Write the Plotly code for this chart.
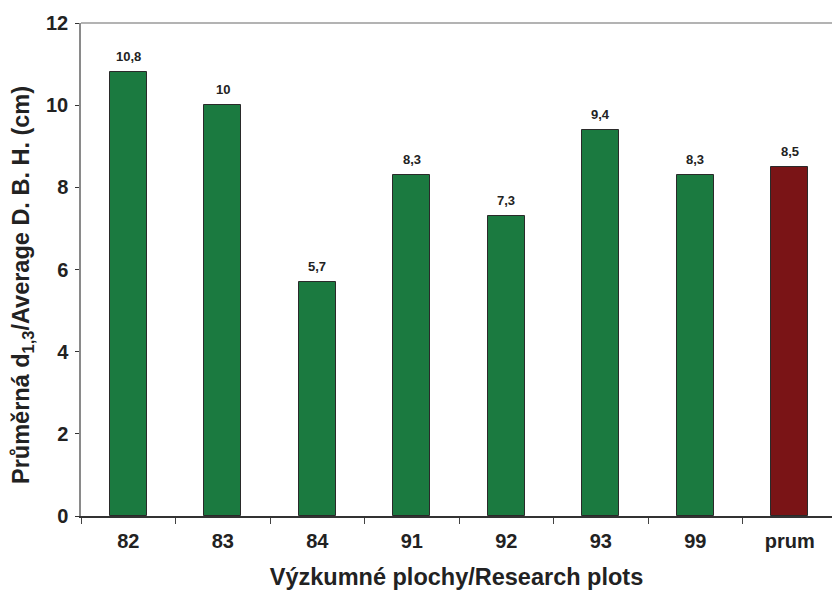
import plotly.graph_objects as go

# Research plots and the mean diameter at breast height (cm)
plots = ["82", "83", "84", "91", "92", "93", "99", "prum"]
dbh = [10.8, 10.0, 5.7, 8.3, 7.3, 9.4, 8.3, 8.5]
value_labels = ["10,8", "10", "5,7", "8,3", "7,3", "9,4", "8,3", "8,5"]

y_ticks = [0, 2, 4, 6, 8, 10, 12]

GREEN = "#1B7A40"
RED = "#7A1416"
bar_colors = [RED if p == "prum" else GREEN for p in plots]

fig = go.Figure()
fig.add_trace(go.Bar(
    x=plots,
    y=dbh,
    width=0.395,
    marker=dict(color=bar_colors, line=dict(color="#2a2a2a", width=1)),
    hoverinfo="x+y",
))

# value labels above each bar (category index used as x position)
for i, (v, lab) in enumerate(zip(dbh, value_labels)):
    fig.add_annotation(
        x=i, y=v, text="<b>" + lab + "</b>", showarrow=False,
        yanchor="bottom", yshift=6,
        font=dict(family="Liberation Sans Narrow, Arial Narrow, Liberation Sans, sans-serif",
                  size=13, color="#222222"),
    )

# vertical y-axis title, placed as an annotation left of the tick labels
fig.add_annotation(
    xref="paper", yref="paper",
    x=(22 - 81) / 751, y=(516 - 285) / 493,
    xanchor="center", yanchor="middle",
    textangle=-90, showarrow=False,
    text="<b>Průměrná d<sub>1,3</sub>/Average D. B. H. (cm)</b>",
    font=dict(size=23.5, family="Liberation Sans, Arial, sans-serif", color="#222222"),
)

# thin grey frame line along the top of the plot area
fig.add_shape(type="line", xref="paper", yref="paper",
              x0=0, x1=1, y0=1, y1=1,
              line=dict(color="#9a9a9a", width=1.5))

fig.update_layout(
    width=832, height=598,
    margin=dict(l=81, r=0, t=23, b=82),
    paper_bgcolor="white", plot_bgcolor="white",
    showlegend=False,
    font=dict(family="Liberation Sans, Arial, sans-serif", color="#222222"),
    bargap=0,
)

fig.update_xaxes(
    type="category",
    range=[-0.5, 7.447],
    tickson="boundaries",
    ticks="outside", ticklen=6, tickcolor="#444444", tickwidth=1,
    showline=True, linecolor="#333333", linewidth=1.5,
    showgrid=False, zeroline=False,
    tickfont=dict(size=20, family="Liberation Sans, Arial, sans-serif", weight="bold"),
    ticklabelstandoff=6,
    title=dict(text="<b>Výzkumné plochy/Research plots</b>",
               font=dict(size=23.5), standoff=18),
)

fig.update_yaxes(
    range=[0, 12],
    tickvals=y_ticks,
    ticks="outside", ticklen=4, tickcolor="#333333", tickwidth=1,
    showline=True, linecolor="#8a8a8a", linewidth=1.5,
    showgrid=False, zeroline=False,
    tickfont=dict(size=20, family="Liberation Sans, Arial, sans-serif", weight="bold"),
    ticklabelstandoff=3,
)

fig.write_html("out.html")
